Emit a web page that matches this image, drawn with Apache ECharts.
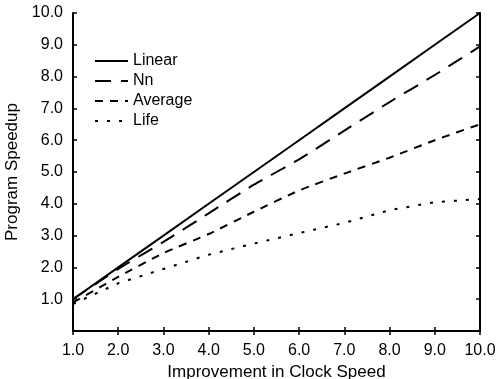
<!DOCTYPE html>
<html>
<head>
    <meta charset="utf-8">
    <style type="text/css">
        html,body { margin: 0px; padding: 0px; height: 100%; background: #fff; }
    </style>
    <script src="https://cdn.jsdelivr.net/npm/echarts@6/dist/echarts.min.js"></script>
</head>
<body>
    <div id="canvas1" style="width: 498px; height: 379px;"></div>
    <script type="text/javascript">
        // data
        var speedX = [1, 2, 3, 4, 5, 6, 7, 8, 9, 10];
        var linear = [1.0, 2.0, 3.0, 4.0, 5.0, 6.0, 7.0, 8.0, 9.0, 10.0];
        var nn = [1.0, 1.95, 2.8, 3.7, 4.6, 5.4, 6.3, 7.2, 8.05, 8.95];
        var average = [0.9, 1.7, 2.45, 3.05, 3.75, 4.42, 4.95, 5.45, 6.0, 6.5];
        var life = [0.85, 1.5, 1.95, 2.4, 2.75, 3.08, 3.4, 3.8, 4.05, 4.15];
        var seriesNames = ['Linear', 'Nn', 'Average', 'Life'];

        var font = 'Liberation Sans, Arial, sans-serif';
        function pairs(ys) {
            return speedX.map(function (x, i) { return [x, ys[i]]; });
        }
        function fmt(v) { return v.toFixed(1); }

        var axisBase = {
            type: 'value', min: 1, max: 10, interval: 1,
            axisLine: { show: true, lineStyle: { color: '#000', width: 2 } },
            axisTick: { show: true, inside: true, length: 4, lineStyle: { color: '#000', width: 1.5 } },
            splitLine: { show: false }
        };

        var myChart1 = echarts.init(document.getElementById('canvas1'));
        var option1 = {
            animation: false,
            color: ['#000', '#000', '#000', '#000'],
            grid: { left: 73, right: 18, top: 13, bottom: 48, outerBoundsMode: 'none', containLabel: false },
            legend: {
                data: seriesNames, orient: 'vertical', left: 89, top: 48,
                itemWidth: 33, itemHeight: 14, itemGap: 4,
                itemStyle: { opacity: 0 },
                textStyle: { fontFamily: font, fontSize: 16, color: '#000' }
            },
            xAxis: [
                Object.assign({}, axisBase, {
                    position: 'bottom',
                    name: 'Improvement in Clock Speed', nameLocation: 'middle', nameGap: 31,
                    nameTextStyle: { fontFamily: font, fontSize: 17, color: '#000' },
                    axisLabel: { margin: 12, fontFamily: font, fontSize: 16, color: '#000', formatter: fmt }
                }),
                Object.assign({}, axisBase, { position: 'top', axisLabel: { show: false } })
            ],
            yAxis: [
                Object.assign({}, axisBase, {
                    min: 0, position: 'left',
                    name: 'Program Speedup', nameLocation: 'middle', nameGap: 46,
                    nameTextStyle: { fontFamily: font, fontSize: 17, color: '#000' },
                    axisLabel: {
                        margin: 10, fontFamily: font, fontSize: 16, color: '#000',
                        formatter: function (v) { return v === 0 ? '' : fmt(v); }
                    }
                }),
                Object.assign({}, axisBase, { min: 0, position: 'right', axisLabel: { show: false } })
            ],
            series: [
                { name: 'Linear', type: 'line', data: pairs(linear), symbol: 'none',
                  lineStyle: { color: '#000', width: 2, type: 'solid' } },
                { name: 'Nn', type: 'line', data: pairs(nn), symbol: 'none', smooth: 0.2,
                  lineStyle: { color: '#000', width: 2, type: [16, 10] } },
                { name: 'Average', type: 'line', data: pairs(average), symbol: 'none', smooth: 0.2,
                  lineStyle: { color: '#000', width: 2, type: [8, 7] } },
                { name: 'Life', type: 'line', data: pairs(life), symbol: 'none',
                  lineStyle: { color: '#000', width: 2, type: [3, 9] } }
            ]
        };
        myChart1.setOption(option1);
    </script>
</body>
</html>
